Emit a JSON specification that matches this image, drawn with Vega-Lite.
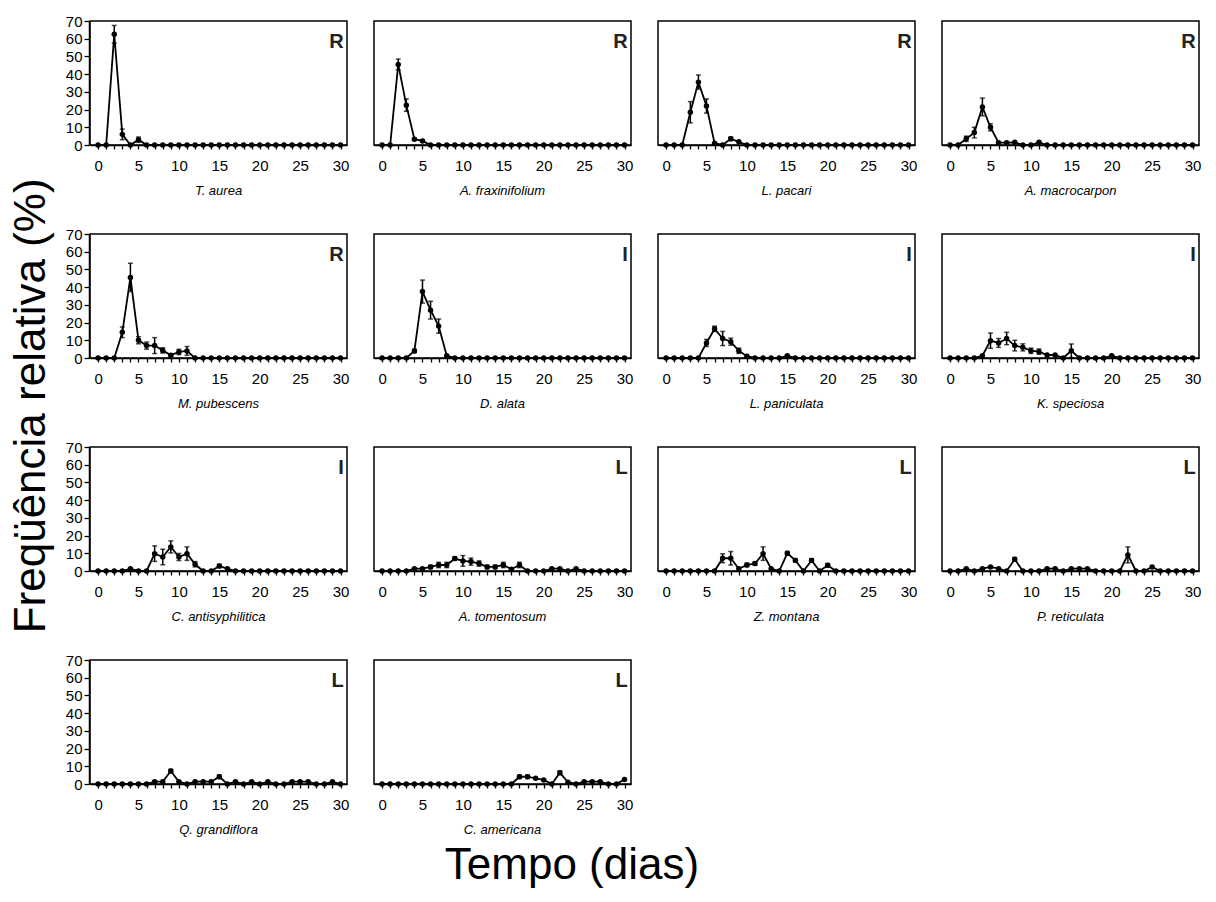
{
  "$schema": "https://vega.github.io/schema/vega-lite/v6.json",
  "background": "white",
  "padding": {"left": 10, "top": 14, "right": 5, "bottom": 5},
  "datasets": {
    "cats": [
      {"sp": "T. aurea", "c": "R"}, {"sp": "A. fraxinifolium", "c": "R"}, {"sp": "L. pacari", "c": "R"}, {"sp": "A. macrocarpon", "c": "R"},
      {"sp": "M. pubescens", "c": "R"}, {"sp": "D. alata", "c": "I"}, {"sp": "L. paniculata", "c": "I"}, {"sp": "K. speciosa", "c": "I"},
      {"sp": "C. antisyphilitica", "c": "I"}, {"sp": "A. tomentosum", "c": "L"}, {"sp": "Z. montana", "c": "L"}, {"sp": "P. reticulata", "c": "L"},
      {"sp": "Q. grandiflora", "c": "L"}, {"sp": "C. americana", "c": "L"}
    ],
    "freq": [
      {"sp":"T. aurea","d":0,"v":0},{"sp":"T. aurea","d":1,"v":0},{"sp":"T. aurea","d":2,"v":62.5,"e":5},{"sp":"T. aurea","d":3,"v":6,"e":3},{"sp":"T. aurea","d":4,"v":0},{"sp":"T. aurea","d":5,"v":3,"e":1.5},{"sp":"T. aurea","d":6,"v":0},{"sp":"T. aurea","d":7,"v":0},{"sp":"T. aurea","d":8,"v":0},{"sp":"T. aurea","d":9,"v":0},{"sp":"T. aurea","d":10,"v":0},{"sp":"T. aurea","d":11,"v":0},{"sp":"T. aurea","d":12,"v":0},{"sp":"T. aurea","d":13,"v":0},{"sp":"T. aurea","d":14,"v":0},{"sp":"T. aurea","d":15,"v":0},{"sp":"T. aurea","d":16,"v":0},{"sp":"T. aurea","d":17,"v":0},{"sp":"T. aurea","d":18,"v":0},{"sp":"T. aurea","d":19,"v":0},{"sp":"T. aurea","d":20,"v":0},{"sp":"T. aurea","d":21,"v":0},{"sp":"T. aurea","d":22,"v":0},{"sp":"T. aurea","d":23,"v":0},{"sp":"T. aurea","d":24,"v":0},{"sp":"T. aurea","d":25,"v":0},{"sp":"T. aurea","d":26,"v":0},{"sp":"T. aurea","d":27,"v":0},{"sp":"T. aurea","d":28,"v":0},{"sp":"T. aurea","d":29,"v":0},{"sp":"T. aurea","d":30,"v":0},

      {"sp":"A. fraxinifolium","d":0,"v":0},{"sp":"A. fraxinifolium","d":1,"v":0},{"sp":"A. fraxinifolium","d":2,"v":45.5,"e":3},{"sp":"A. fraxinifolium","d":3,"v":22.5,"e":3.5},{"sp":"A. fraxinifolium","d":4,"v":3.3,"e":0.5},{"sp":"A. fraxinifolium","d":5,"v":2.3,"e":0.5},{"sp":"A. fraxinifolium","d":6,"v":0},{"sp":"A. fraxinifolium","d":7,"v":0},{"sp":"A. fraxinifolium","d":8,"v":0},{"sp":"A. fraxinifolium","d":9,"v":0},{"sp":"A. fraxinifolium","d":10,"v":0},{"sp":"A. fraxinifolium","d":11,"v":0},{"sp":"A. fraxinifolium","d":12,"v":0},{"sp":"A. fraxinifolium","d":13,"v":0},{"sp":"A. fraxinifolium","d":14,"v":0},{"sp":"A. fraxinifolium","d":15,"v":0},{"sp":"A. fraxinifolium","d":16,"v":0},{"sp":"A. fraxinifolium","d":17,"v":0},{"sp":"A. fraxinifolium","d":18,"v":0},{"sp":"A. fraxinifolium","d":19,"v":0},{"sp":"A. fraxinifolium","d":20,"v":0},{"sp":"A. fraxinifolium","d":21,"v":0},{"sp":"A. fraxinifolium","d":22,"v":0},{"sp":"A. fraxinifolium","d":23,"v":0},{"sp":"A. fraxinifolium","d":24,"v":0},{"sp":"A. fraxinifolium","d":25,"v":0},{"sp":"A. fraxinifolium","d":26,"v":0},{"sp":"A. fraxinifolium","d":27,"v":0},{"sp":"A. fraxinifolium","d":28,"v":0},{"sp":"A. fraxinifolium","d":29,"v":0},{"sp":"A. fraxinifolium","d":30,"v":0},

      {"sp":"L. pacari","d":0,"v":0},{"sp":"L. pacari","d":1,"v":0},{"sp":"L. pacari","d":2,"v":0},{"sp":"L. pacari","d":3,"v":18.5,"e":6},{"sp":"L. pacari","d":4,"v":35.5,"e":4},{"sp":"L. pacari","d":5,"v":22,"e":4},{"sp":"L. pacari","d":6,"v":1},{"sp":"L. pacari","d":7,"v":0},{"sp":"L. pacari","d":8,"v":3.5,"e":1},{"sp":"L. pacari","d":9,"v":1.8},{"sp":"L. pacari","d":10,"v":0},{"sp":"L. pacari","d":11,"v":0},{"sp":"L. pacari","d":12,"v":0},{"sp":"L. pacari","d":13,"v":0},{"sp":"L. pacari","d":14,"v":0},{"sp":"L. pacari","d":15,"v":0},{"sp":"L. pacari","d":16,"v":0},{"sp":"L. pacari","d":17,"v":0},{"sp":"L. pacari","d":18,"v":0},{"sp":"L. pacari","d":19,"v":0},{"sp":"L. pacari","d":20,"v":0},{"sp":"L. pacari","d":21,"v":0},{"sp":"L. pacari","d":22,"v":0},{"sp":"L. pacari","d":23,"v":0},{"sp":"L. pacari","d":24,"v":0},{"sp":"L. pacari","d":25,"v":0},{"sp":"L. pacari","d":26,"v":0},{"sp":"L. pacari","d":27,"v":0},{"sp":"L. pacari","d":28,"v":0},{"sp":"L. pacari","d":29,"v":0},{"sp":"L. pacari","d":30,"v":0},

      {"sp":"A. macrocarpon","d":0,"v":0},{"sp":"A. macrocarpon","d":1,"v":0},{"sp":"A. macrocarpon","d":2,"v":3.5,"e":1.5},{"sp":"A. macrocarpon","d":3,"v":7,"e":3},{"sp":"A. macrocarpon","d":4,"v":21.5,"e":5},{"sp":"A. macrocarpon","d":5,"v":10,"e":2},{"sp":"A. macrocarpon","d":6,"v":1.3},{"sp":"A. macrocarpon","d":7,"v":1.3},{"sp":"A. macrocarpon","d":8,"v":1.5},{"sp":"A. macrocarpon","d":9,"v":0},{"sp":"A. macrocarpon","d":10,"v":0},{"sp":"A. macrocarpon","d":11,"v":1.5},{"sp":"A. macrocarpon","d":12,"v":0},{"sp":"A. macrocarpon","d":13,"v":0},{"sp":"A. macrocarpon","d":14,"v":0},{"sp":"A. macrocarpon","d":15,"v":0},{"sp":"A. macrocarpon","d":16,"v":0},{"sp":"A. macrocarpon","d":17,"v":0},{"sp":"A. macrocarpon","d":18,"v":0},{"sp":"A. macrocarpon","d":19,"v":0},{"sp":"A. macrocarpon","d":20,"v":0},{"sp":"A. macrocarpon","d":21,"v":0},{"sp":"A. macrocarpon","d":22,"v":0},{"sp":"A. macrocarpon","d":23,"v":0},{"sp":"A. macrocarpon","d":24,"v":0},{"sp":"A. macrocarpon","d":25,"v":0},{"sp":"A. macrocarpon","d":26,"v":0},{"sp":"A. macrocarpon","d":27,"v":0},{"sp":"A. macrocarpon","d":28,"v":0},{"sp":"A. macrocarpon","d":29,"v":0},{"sp":"A. macrocarpon","d":30,"v":0},

      {"sp":"M. pubescens","d":0,"v":0},{"sp":"M. pubescens","d":1,"v":0},{"sp":"M. pubescens","d":2,"v":0},{"sp":"M. pubescens","d":3,"v":14.5,"e":3},{"sp":"M. pubescens","d":4,"v":45.5,"e":8},{"sp":"M. pubescens","d":5,"v":10,"e":2},{"sp":"M. pubescens","d":6,"v":7,"e":2},{"sp":"M. pubescens","d":7,"v":7,"e":4.5},{"sp":"M. pubescens","d":8,"v":4.3,"e":1.5},{"sp":"M. pubescens","d":9,"v":1.5,"e":0.5},{"sp":"M. pubescens","d":10,"v":3.4,"e":1.5},{"sp":"M. pubescens","d":11,"v":4,"e":2.5},{"sp":"M. pubescens","d":12,"v":0},{"sp":"M. pubescens","d":13,"v":0},{"sp":"M. pubescens","d":14,"v":0},{"sp":"M. pubescens","d":15,"v":0},{"sp":"M. pubescens","d":16,"v":0},{"sp":"M. pubescens","d":17,"v":0},{"sp":"M. pubescens","d":18,"v":0},{"sp":"M. pubescens","d":19,"v":0},{"sp":"M. pubescens","d":20,"v":0},{"sp":"M. pubescens","d":21,"v":0},{"sp":"M. pubescens","d":22,"v":0},{"sp":"M. pubescens","d":23,"v":0},{"sp":"M. pubescens","d":24,"v":0},{"sp":"M. pubescens","d":25,"v":0},{"sp":"M. pubescens","d":26,"v":0},{"sp":"M. pubescens","d":27,"v":0},{"sp":"M. pubescens","d":28,"v":0},{"sp":"M. pubescens","d":29,"v":0},{"sp":"M. pubescens","d":30,"v":0},

      {"sp":"D. alata","d":0,"v":0},{"sp":"D. alata","d":1,"v":0},{"sp":"D. alata","d":2,"v":0},{"sp":"D. alata","d":3,"v":0},{"sp":"D. alata","d":4,"v":4,"e":1},{"sp":"D. alata","d":5,"v":37.5,"e":6.5},{"sp":"D. alata","d":6,"v":27,"e":5},{"sp":"D. alata","d":7,"v":18,"e":4},{"sp":"D. alata","d":8,"v":1.3},{"sp":"D. alata","d":9,"v":0},{"sp":"D. alata","d":10,"v":0},{"sp":"D. alata","d":11,"v":0},{"sp":"D. alata","d":12,"v":0},{"sp":"D. alata","d":13,"v":0},{"sp":"D. alata","d":14,"v":0},{"sp":"D. alata","d":15,"v":0},{"sp":"D. alata","d":16,"v":0},{"sp":"D. alata","d":17,"v":0},{"sp":"D. alata","d":18,"v":0},{"sp":"D. alata","d":19,"v":0},{"sp":"D. alata","d":20,"v":0},{"sp":"D. alata","d":21,"v":0},{"sp":"D. alata","d":22,"v":0},{"sp":"D. alata","d":23,"v":0},{"sp":"D. alata","d":24,"v":0},{"sp":"D. alata","d":25,"v":0},{"sp":"D. alata","d":26,"v":0},{"sp":"D. alata","d":27,"v":0},{"sp":"D. alata","d":28,"v":0},{"sp":"D. alata","d":29,"v":0},{"sp":"D. alata","d":30,"v":0},

      {"sp":"L. paniculata","d":0,"v":0},{"sp":"L. paniculata","d":1,"v":0},{"sp":"L. paniculata","d":2,"v":0},{"sp":"L. paniculata","d":3,"v":0},{"sp":"L. paniculata","d":4,"v":0},{"sp":"L. paniculata","d":5,"v":8.5,"e":2},{"sp":"L. paniculata","d":6,"v":16.5,"e":1.5},{"sp":"L. paniculata","d":7,"v":11,"e":4},{"sp":"L. paniculata","d":8,"v":9.2,"e":2},{"sp":"L. paniculata","d":9,"v":4.1,"e":1.5},{"sp":"L. paniculata","d":10,"v":1},{"sp":"L. paniculata","d":11,"v":0},{"sp":"L. paniculata","d":12,"v":0},{"sp":"L. paniculata","d":13,"v":0},{"sp":"L. paniculata","d":14,"v":0},{"sp":"L. paniculata","d":15,"v":1.3},{"sp":"L. paniculata","d":16,"v":0},{"sp":"L. paniculata","d":17,"v":0},{"sp":"L. paniculata","d":18,"v":0},{"sp":"L. paniculata","d":19,"v":0},{"sp":"L. paniculata","d":20,"v":0},{"sp":"L. paniculata","d":21,"v":0},{"sp":"L. paniculata","d":22,"v":0},{"sp":"L. paniculata","d":23,"v":0},{"sp":"L. paniculata","d":24,"v":0},{"sp":"L. paniculata","d":25,"v":0},{"sp":"L. paniculata","d":26,"v":0},{"sp":"L. paniculata","d":27,"v":0},{"sp":"L. paniculata","d":28,"v":0},{"sp":"L. paniculata","d":29,"v":0},{"sp":"L. paniculata","d":30,"v":0},

      {"sp":"K. speciosa","d":0,"v":0},{"sp":"K. speciosa","d":1,"v":0},{"sp":"K. speciosa","d":2,"v":0},{"sp":"K. speciosa","d":3,"v":0},{"sp":"K. speciosa","d":4,"v":1.3},{"sp":"K. speciosa","d":5,"v":9.8,"e":4.3},{"sp":"K. speciosa","d":6,"v":8.5,"e":2.5},{"sp":"K. speciosa","d":7,"v":11,"e":3.5},{"sp":"K. speciosa","d":8,"v":7,"e":3},{"sp":"K. speciosa","d":9,"v":6,"e":2},{"sp":"K. speciosa","d":10,"v":4.1,"e":1.5},{"sp":"K. speciosa","d":11,"v":3.6,"e":1.5},{"sp":"K. speciosa","d":12,"v":1.7},{"sp":"K. speciosa","d":13,"v":1.7},{"sp":"K. speciosa","d":14,"v":0},{"sp":"K. speciosa","d":15,"v":4.1,"e":3.8},{"sp":"K. speciosa","d":16,"v":0},{"sp":"K. speciosa","d":17,"v":0},{"sp":"K. speciosa","d":18,"v":0},{"sp":"K. speciosa","d":19,"v":0},{"sp":"K. speciosa","d":20,"v":1.3},{"sp":"K. speciosa","d":21,"v":0},{"sp":"K. speciosa","d":22,"v":0},{"sp":"K. speciosa","d":23,"v":0},{"sp":"K. speciosa","d":24,"v":0},{"sp":"K. speciosa","d":25,"v":0},{"sp":"K. speciosa","d":26,"v":0},{"sp":"K. speciosa","d":27,"v":0},{"sp":"K. speciosa","d":28,"v":0},{"sp":"K. speciosa","d":29,"v":0},{"sp":"K. speciosa","d":30,"v":0},

      {"sp":"C. antisyphilitica","d":0,"v":0},{"sp":"C. antisyphilitica","d":1,"v":0},{"sp":"C. antisyphilitica","d":2,"v":0},{"sp":"C. antisyphilitica","d":3,"v":0},{"sp":"C. antisyphilitica","d":4,"v":1.3},{"sp":"C. antisyphilitica","d":5,"v":0},{"sp":"C. antisyphilitica","d":6,"v":0},{"sp":"C. antisyphilitica","d":7,"v":9.8,"e":4.4},{"sp":"C. antisyphilitica","d":8,"v":7.9,"e":4.4},{"sp":"C. antisyphilitica","d":9,"v":13.6,"e":3.4},{"sp":"C. antisyphilitica","d":10,"v":7.9,"e":2},{"sp":"C. antisyphilitica","d":11,"v":9.8,"e":3.8},{"sp":"C. antisyphilitica","d":12,"v":3.8,"e":1.5},{"sp":"C. antisyphilitica","d":13,"v":0},{"sp":"C. antisyphilitica","d":14,"v":0},{"sp":"C. antisyphilitica","d":15,"v":2.8,"e":1},{"sp":"C. antisyphilitica","d":16,"v":1.3},{"sp":"C. antisyphilitica","d":17,"v":0},{"sp":"C. antisyphilitica","d":18,"v":0},{"sp":"C. antisyphilitica","d":19,"v":0},{"sp":"C. antisyphilitica","d":20,"v":0},{"sp":"C. antisyphilitica","d":21,"v":0},{"sp":"C. antisyphilitica","d":22,"v":0},{"sp":"C. antisyphilitica","d":23,"v":0},{"sp":"C. antisyphilitica","d":24,"v":0},{"sp":"C. antisyphilitica","d":25,"v":0},{"sp":"C. antisyphilitica","d":26,"v":0},{"sp":"C. antisyphilitica","d":27,"v":0},{"sp":"C. antisyphilitica","d":28,"v":0},{"sp":"C. antisyphilitica","d":29,"v":0},{"sp":"C. antisyphilitica","d":30,"v":0},

      {"sp":"A. tomentosum","d":0,"v":0},{"sp":"A. tomentosum","d":1,"v":0},{"sp":"A. tomentosum","d":2,"v":0},{"sp":"A. tomentosum","d":3,"v":0},{"sp":"A. tomentosum","d":4,"v":1.3},{"sp":"A. tomentosum","d":5,"v":1.3},{"sp":"A. tomentosum","d":6,"v":2.3,"e":1},{"sp":"A. tomentosum","d":7,"v":3.4,"e":1.5},{"sp":"A. tomentosum","d":8,"v":3.4,"e":1.5},{"sp":"A. tomentosum","d":9,"v":7,"e":1},{"sp":"A. tomentosum","d":10,"v":5.7,"e":3},{"sp":"A. tomentosum","d":11,"v":5.3,"e":2},{"sp":"A. tomentosum","d":12,"v":4.2,"e":1.5},{"sp":"A. tomentosum","d":13,"v":2.3,"e":1},{"sp":"A. tomentosum","d":14,"v":2.3,"e":1},{"sp":"A. tomentosum","d":15,"v":3.4,"e":1.5},{"sp":"A. tomentosum","d":16,"v":1},{"sp":"A. tomentosum","d":17,"v":3.4,"e":1.5},{"sp":"A. tomentosum","d":18,"v":0},{"sp":"A. tomentosum","d":19,"v":0},{"sp":"A. tomentosum","d":20,"v":0},{"sp":"A. tomentosum","d":21,"v":1.3},{"sp":"A. tomentosum","d":22,"v":1.3},{"sp":"A. tomentosum","d":23,"v":0},{"sp":"A. tomentosum","d":24,"v":1.3},{"sp":"A. tomentosum","d":25,"v":0},{"sp":"A. tomentosum","d":26,"v":0},{"sp":"A. tomentosum","d":27,"v":0},{"sp":"A. tomentosum","d":28,"v":0},{"sp":"A. tomentosum","d":29,"v":0},{"sp":"A. tomentosum","d":30,"v":0},

      {"sp":"Z. montana","d":0,"v":0},{"sp":"Z. montana","d":1,"v":0},{"sp":"Z. montana","d":2,"v":0},{"sp":"Z. montana","d":3,"v":0},{"sp":"Z. montana","d":4,"v":0},{"sp":"Z. montana","d":5,"v":0},{"sp":"Z. montana","d":6,"v":0},{"sp":"Z. montana","d":7,"v":7.2,"e":2.5},{"sp":"Z. montana","d":8,"v":7.2,"e":3.8},{"sp":"Z. montana","d":9,"v":1.3},{"sp":"Z. montana","d":10,"v":3.4,"e":1},{"sp":"Z. montana","d":11,"v":4.2,"e":1},{"sp":"Z. montana","d":12,"v":9.8,"e":3.8},{"sp":"Z. montana","d":13,"v":1.3},{"sp":"Z. montana","d":14,"v":0},{"sp":"Z. montana","d":15,"v":10,"e":1},{"sp":"Z. montana","d":16,"v":6,"e":1},{"sp":"Z. montana","d":17,"v":0},{"sp":"Z. montana","d":18,"v":6,"e":1},{"sp":"Z. montana","d":19,"v":0},{"sp":"Z. montana","d":20,"v":3.2,"e":1},{"sp":"Z. montana","d":21,"v":0},{"sp":"Z. montana","d":22,"v":0},{"sp":"Z. montana","d":23,"v":0},{"sp":"Z. montana","d":24,"v":0},{"sp":"Z. montana","d":25,"v":0},{"sp":"Z. montana","d":26,"v":0},{"sp":"Z. montana","d":27,"v":0},{"sp":"Z. montana","d":28,"v":0},{"sp":"Z. montana","d":29,"v":0},{"sp":"Z. montana","d":30,"v":0},

      {"sp":"P. reticulata","d":0,"v":0},{"sp":"P. reticulata","d":1,"v":0},{"sp":"P. reticulata","d":2,"v":1.3},{"sp":"P. reticulata","d":3,"v":0},{"sp":"P. reticulata","d":4,"v":1.3},{"sp":"P. reticulata","d":5,"v":2.3},{"sp":"P. reticulata","d":6,"v":1.3},{"sp":"P. reticulata","d":7,"v":0},{"sp":"P. reticulata","d":8,"v":6.6,"e":1},{"sp":"P. reticulata","d":9,"v":0},{"sp":"P. reticulata","d":10,"v":0},{"sp":"P. reticulata","d":11,"v":0},{"sp":"P. reticulata","d":12,"v":1.3},{"sp":"P. reticulata","d":13,"v":1.3},{"sp":"P. reticulata","d":14,"v":0},{"sp":"P. reticulata","d":15,"v":1.3},{"sp":"P. reticulata","d":16,"v":1.3},{"sp":"P. reticulata","d":17,"v":1.3},{"sp":"P. reticulata","d":18,"v":0},{"sp":"P. reticulata","d":19,"v":0},{"sp":"P. reticulata","d":20,"v":0},{"sp":"P. reticulata","d":21,"v":0},{"sp":"P. reticulata","d":22,"v":9.1,"e":4.5},{"sp":"P. reticulata","d":23,"v":0},{"sp":"P. reticulata","d":24,"v":0},{"sp":"P. reticulata","d":25,"v":2.3},{"sp":"P. reticulata","d":26,"v":0},{"sp":"P. reticulata","d":27,"v":0},{"sp":"P. reticulata","d":28,"v":0},{"sp":"P. reticulata","d":29,"v":0},{"sp":"P. reticulata","d":30,"v":0},

      {"sp":"Q. grandiflora","d":0,"v":0},{"sp":"Q. grandiflora","d":1,"v":0},{"sp":"Q. grandiflora","d":2,"v":0},{"sp":"Q. grandiflora","d":3,"v":0},{"sp":"Q. grandiflora","d":4,"v":0},{"sp":"Q. grandiflora","d":5,"v":0},{"sp":"Q. grandiflora","d":6,"v":0},{"sp":"Q. grandiflora","d":7,"v":1.3},{"sp":"Q. grandiflora","d":8,"v":1.3},{"sp":"Q. grandiflora","d":9,"v":7.3,"e":1},{"sp":"Q. grandiflora","d":10,"v":1.3},{"sp":"Q. grandiflora","d":11,"v":0},{"sp":"Q. grandiflora","d":12,"v":1.3},{"sp":"Q. grandiflora","d":13,"v":1.3},{"sp":"Q. grandiflora","d":14,"v":1.3},{"sp":"Q. grandiflora","d":15,"v":4.1,"e":1},{"sp":"Q. grandiflora","d":16,"v":0},{"sp":"Q. grandiflora","d":17,"v":1.3},{"sp":"Q. grandiflora","d":18,"v":0},{"sp":"Q. grandiflora","d":19,"v":1.3},{"sp":"Q. grandiflora","d":20,"v":0},{"sp":"Q. grandiflora","d":21,"v":1.3},{"sp":"Q. grandiflora","d":22,"v":0},{"sp":"Q. grandiflora","d":23,"v":0},{"sp":"Q. grandiflora","d":24,"v":1.3},{"sp":"Q. grandiflora","d":25,"v":1.3},{"sp":"Q. grandiflora","d":26,"v":1.3},{"sp":"Q. grandiflora","d":27,"v":0},{"sp":"Q. grandiflora","d":28,"v":0},{"sp":"Q. grandiflora","d":29,"v":1.3},{"sp":"Q. grandiflora","d":30,"v":0},

      {"sp":"C. americana","d":0,"v":0},{"sp":"C. americana","d":1,"v":0},{"sp":"C. americana","d":2,"v":0},{"sp":"C. americana","d":3,"v":0},{"sp":"C. americana","d":4,"v":0},{"sp":"C. americana","d":5,"v":0},{"sp":"C. americana","d":6,"v":0},{"sp":"C. americana","d":7,"v":0},{"sp":"C. americana","d":8,"v":0},{"sp":"C. americana","d":9,"v":0},{"sp":"C. americana","d":10,"v":0},{"sp":"C. americana","d":11,"v":0},{"sp":"C. americana","d":12,"v":0},{"sp":"C. americana","d":13,"v":0},{"sp":"C. americana","d":14,"v":0},{"sp":"C. americana","d":15,"v":0},{"sp":"C. americana","d":16,"v":0},{"sp":"C. americana","d":17,"v":4.1,"e":1},{"sp":"C. americana","d":18,"v":4.1,"e":1},{"sp":"C. americana","d":19,"v":3.2},{"sp":"C. americana","d":20,"v":2.3},{"sp":"C. americana","d":21,"v":0},{"sp":"C. americana","d":22,"v":6.4,"e":1},{"sp":"C. americana","d":23,"v":1},{"sp":"C. americana","d":24,"v":0},{"sp":"C. americana","d":25,"v":1.3},{"sp":"C. americana","d":26,"v":1.3},{"sp":"C. americana","d":27,"v":1.3},{"sp":"C. americana","d":28,"v":0},{"sp":"C. americana","d":29,"v":0},{"sp":"C. americana","d":30,"v":2.6}
    ]
  },
  "title": {"text": "Tempo (dias)", "orient": "bottom", "anchor": "middle", "fontSize": 44, "font": "Liberation Sans", "fontWeight": "normal", "color": "black", "offset": 6, "dx": -34},
  "vconcat": [
    {
      "data": {"name": "freq"},
      "transform": [
        {"lookup": "sp", "from": {"data": {"name": "cats"}, "key": "sp", "fields": ["c"]}}
      ],
      "title": {"text": "Freqüência relativa (%)", "orient": "left", "anchor": "middle", "fontSize": 44, "font": "Liberation Sans", "fontWeight": "normal", "color": "black", "offset": 11, "dx": 20},
      "columns": 4,
      "spacing": {"row": 34, "column": 23},
      "resolve": {"axis": {"x": "independent"}},
      "facet": {
        "field": "sp",
        "type": "nominal",
        "sort": ["T. aurea", "A. fraxinifolium", "L. pacari", "A. macrocarpon", "M. pubescens", "D. alata", "L. paniculata", "K. speciosa", "C. antisyphilitica", "A. tomentosum", "Z. montana", "P. reticulata", "Q. grandiflora", "C. americana"],
        "header": {"title": null, "labelOrient": "bottom", "labelFontStyle": "italic", "labelFontSize": 13, "labelFont": "Liberation Sans", "labelColor": "black", "labelPadding": 12}
      },
      "spec": {
        "width": 257,
        "height": 124,
        "encoding": {
          "x": {"field": "d", "type": "quantitative", "scale": {"domain": [-1, 30.8], "nice": false, "zero": false},
                "axis": {"title": null, "values": [0,1,2,3,4,5,6,7,8,9,10,11,12,13,14,15,16,17,18,19,20,21,22,23,24,25,26,27,28,29,30], "labelExpr": "datum.value % 5 == 0 ? datum.label : ''", "labelFlush": false, "labelOverlap": false, "tickSize": 4, "labelPadding": 9}},
          "y": {"field": "v", "type": "quantitative", "scale": {"domain": [0, 70], "nice": false},
                "axis": {"title": null, "values": [0,10,20,30,40,50,60,70], "tickSize": 5, "labelPadding": 2}}
        },
        "layer": [
          {"mark": {"type": "line", "color": "black", "strokeWidth": 1.8}},
          {"transform": [{"filter": "datum.e > 0"}],
           "mark": {"type": "errorbar", "ticks": true, "color": "black", "thickness": 1.5},
           "encoding": {"yError": {"field": "e"}}},
          {"mark": {"type": "point", "filled": true, "color": "black", "size": 30, "opacity": 1}},
          {"transform": [{"filter": "datum.d == 30"}],
           "mark": {"type": "text", "fontSize": 20, "fontWeight": "bold", "font": "Liberation Sans", "align": "right", "baseline": "middle", "color": "#222"},
           "encoding": {"x": {"datum": 30.4}, "y": {"datum": 58}, "text": {"field": "c"}}}
        ]
      }
    }
  ],
  "config": {
    "view": {"stroke": "black", "strokeWidth": 1.5},
    "font": "Liberation Sans",
    "axis": {"domainColor": "black", "domainWidth": 1.5, "tickColor": "black", "tickWidth": 1.3, "labelColor": "black", "labelFontSize": 15, "labelFont": "Liberation Sans", "grid": false}
  }
}
